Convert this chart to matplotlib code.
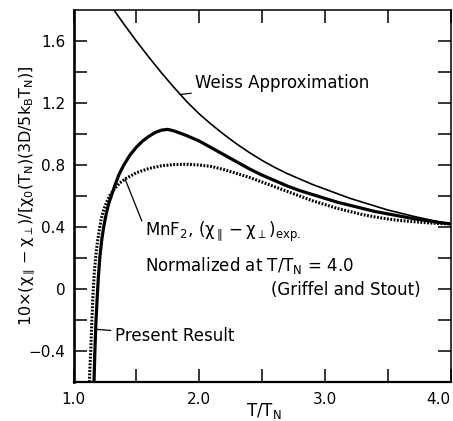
import matplotlib
matplotlib.use("Agg")
import matplotlib.pyplot as plt
import numpy as np

# values
weiss_t = [1.25, 1.30, 1.40, 1.50, 1.60, 1.70, 1.80, 1.90, 2.00, 2.10, 2.20, 2.30, 2.40, 2.50,
           2.60, 2.70, 2.80, 2.90, 3.00, 3.10, 3.20, 3.30, 3.40, 3.50, 3.60, 3.70, 3.80, 3.90, 4.00]
weiss_y = [1.885, 1.825, 1.71, 1.60, 1.495, 1.395, 1.30, 1.21, 1.13, 1.06, 0.995, 0.935, 0.88, 0.83,
           0.785, 0.745, 0.71, 0.675, 0.645, 0.615, 0.585, 0.56, 0.535, 0.51, 0.49, 0.47, 0.452, 0.435, 0.42]

present_t = [1.163, 1.170, 1.178, 1.188, 1.198, 1.21, 1.225, 1.24, 1.26, 1.28, 1.30, 1.33, 1.36,
             1.40, 1.45, 1.50, 1.55, 1.60, 1.65, 1.70, 1.75, 1.80, 1.85, 1.90, 2.00, 2.10, 2.20,
             2.30, 2.40, 2.50, 2.60, 2.70, 2.80, 2.90, 3.00, 3.10, 3.20, 3.30, 3.40, 3.50, 3.60,
             3.70, 3.80, 3.90, 4.00]
present_y = [-0.60, -0.40, -0.22, -0.06, 0.08, 0.21, 0.32, 0.40, 0.485, 0.55, 0.60, 0.67, 0.735,
             0.80, 0.865, 0.915, 0.955, 0.985, 1.01, 1.025, 1.03, 1.02, 1.005, 0.99, 0.955, 0.91, 0.865,
             0.82, 0.775, 0.735, 0.70, 0.665, 0.635, 0.61, 0.585, 0.56, 0.54, 0.52, 0.50, 0.485, 0.47,
             0.455, 0.443, 0.43, 0.42]

mnf2_t = [1.126, 1.131, 1.137, 1.145, 1.155, 1.165, 1.178, 1.19, 1.205, 1.22, 1.24, 1.26, 1.29,
          1.33, 1.37, 1.42, 1.50, 1.60, 1.70, 1.80, 1.90, 2.00, 2.10, 2.20, 2.30, 2.40, 2.50,
          2.60, 2.70, 2.80, 2.90, 3.00, 3.10, 3.20, 3.30, 3.40, 3.50, 3.60, 3.70, 3.80, 3.90, 4.00]
mnf2_y = [-0.60, -0.50, -0.40, -0.22, -0.04, 0.10, 0.22, 0.30, 0.38, 0.45, 0.51, 0.555, 0.605,
          0.65, 0.685, 0.715, 0.75, 0.778, 0.795, 0.803, 0.805, 0.80, 0.79, 0.77, 0.745, 0.72, 0.69,
          0.66, 0.63, 0.60, 0.57, 0.545, 0.52, 0.50, 0.48, 0.465, 0.452, 0.442, 0.435, 0.428, 0.423, 0.42]

xticks = [1.0, 2.0, 3.0, 4.0]
xticklabels = ["1.0", "2.0", "3.0", "4.0"]
yticks = [-0.4, 0.0, 0.4, 0.8, 1.2, 1.6]
yticklabels = ["\u22120.4", "0", "0.4", "0.8", "1.2", "1.6"]

plt.rcParams["mathtext.default"] = "regular"
plt.rcParams["mathtext.fontset"] = "dejavusans"

fig = plt.figure(figsize=(4.53, 4.21), dpi=100)
ax = fig.add_axes([0.1623, 0.0926, 0.8322, 0.8836])

ax.plot(weiss_t, weiss_y, color="black", linewidth=1.2)
ax.plot(present_t, present_y, color="black", linewidth=2.3)
ax.plot(mnf2_t, mnf2_y, color="black", linewidth=2.2, linestyle=(0, (0.6, 0.5)))

ax.set_xlim(1.0, 4.0)
ax.set_ylim(-0.6, 1.8)

ax.set_xticks(xticks)
ax.set_xticklabels(xticklabels, fontsize=11)
ax.get_xticklabels()[-1].set_horizontalalignment("right")
ax.set_xticks(np.arange(1.5, 4.0, 1.0), minor=True)
ax.set_yticks(yticks)
ax.set_yticklabels(yticklabels, fontsize=11)
ax.set_yticks(np.arange(-0.2, 1.8, 0.4), minor=True)
ax.tick_params(which="both", direction="in", length=9.5, width=1.1,
               top=True, right=True, labelright=False, labeltop=False)
ax.tick_params(axis="x", pad=7)
ax.tick_params(axis="y", pad=6)

ax.spines["left"].set_linewidth(1.9)
ax.spines["bottom"].set_linewidth(1.6)
ax.spines["top"].set_linewidth(1.1)
ax.spines["right"].set_linewidth(1.1)

ax.set_xlabel(r"T/T$_N$", fontsize=12)
ax.xaxis.set_label_coords(0.505, -0.052)
ax.set_ylabel(r"10$\times$($\chi_{\parallel}-\chi_{\perp}$)/[$\chi_0$(T$_N$)(3D/5k$_B$T$_N$)]",
              fontsize=11.5)
ax.yaxis.set_label_coords(-0.098, 0.5)

ax.annotate("Weiss Approximation", xy=(1.85, 1.255), xytext=(1.97, 1.33),
            fontsize=12, va="center", ha="left",
            arrowprops=dict(arrowstyle="-", color="black", lw=0.9, shrinkA=1, shrinkB=0))
ax.annotate(r"MnF$_2$, ($\chi_{\parallel}-\chi_{\perp}$)$_{exp.}$", xy=(1.41, 0.71), xytext=(1.57, 0.37),
            fontsize=12, va="center", ha="left",
            arrowprops=dict(arrowstyle="-", color="black", lw=0.9, shrinkA=1, shrinkB=0,
                            relpos=(0, 0.6)))
ax.text(1.57, 0.15, r"Normalized at T/T$_N$ = 4.0", fontsize=12, va="center", ha="left")
ax.text(3.76, -0.005, "(Griffel and Stout)", fontsize=12, va="center", ha="right")
ax.annotate("Present Result", xy=(1.18, -0.26), xytext=(1.33, -0.30),
            fontsize=12, va="center", ha="left",
            arrowprops=dict(arrowstyle="-", color="black", lw=0.9, shrinkA=1, shrinkB=0))

fig.savefig("out.png", dpi=100)
